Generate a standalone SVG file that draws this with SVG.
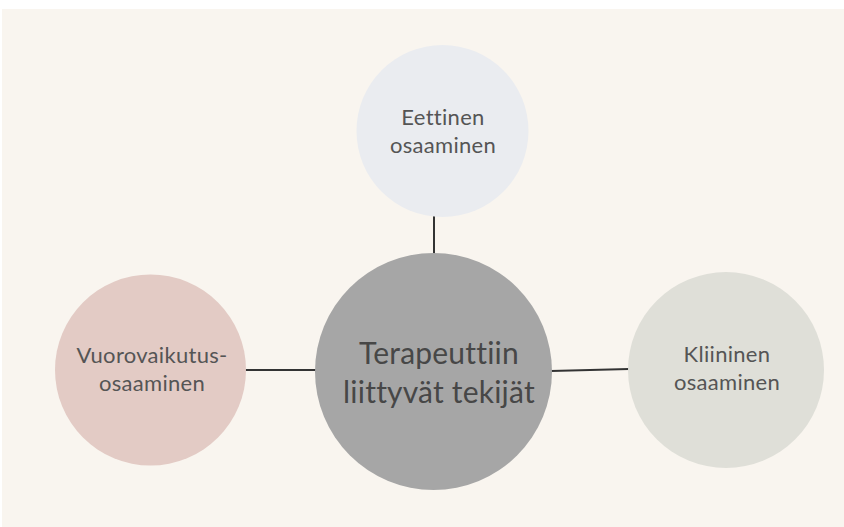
<svg xmlns="http://www.w3.org/2000/svg" width="844" height="527" viewBox="0 0 844 527">
  <style>
    .lbl { font-family: Lato, "Noto Sans", "DejaVu Sans", sans-serif; font-weight: 400; fill: #555555; text-anchor: middle; }
    .small { font-size: 22px; letter-spacing: 0.3px; }
    .big { font-size: 30px; fill: #474747; letter-spacing: 0.2px; }
    .conn { stroke: #333333; stroke-width: 2; fill: none; }
  </style>
  <rect x="0" y="0" width="844" height="527" fill="#ffffff"/>
  <rect x="2" y="9" width="842" height="518" fill="#f9f5ef"/>
  <g id="connectors">
    <line class="conn" x1="434" y1="216" x2="434" y2="254"/>
    <line class="conn" x1="245" y1="370" x2="317" y2="370"/>
    <line class="conn" x1="551" y1="371" x2="629" y2="369"/>
  </g>
  <g id="node-eettinen">
    <circle cx="442.5" cy="131" r="86" fill="#eaecf0"/>
    <text class="lbl small" x="443" y="125">Eettinen</text>
    <text class="lbl small" x="443" y="153">osaaminen</text>
  </g>
  <g id="node-center">
    <circle cx="433.5" cy="371.5" r="118.5" fill="#a6a6a6"/>
    <text class="lbl big" x="439" y="364">Terapeuttiin</text>
    <text class="lbl big" x="439" y="403">liittyvät tekijät</text>
  </g>
  <g id="node-vuorovaikutus">
    <circle cx="150.5" cy="370" r="95.5" fill="#e3cbc5"/>
    <text class="lbl small" x="152" y="363">Vuorovaikutus-</text>
    <text class="lbl small" x="152" y="391">osaaminen</text>
  </g>
  <g id="node-kliininen">
    <circle cx="726" cy="370" r="98" fill="#dfdfd8"/>
    <text class="lbl small" x="727" y="362">Kliininen</text>
    <text class="lbl small" x="727" y="390">osaaminen</text>
  </g>
</svg>
